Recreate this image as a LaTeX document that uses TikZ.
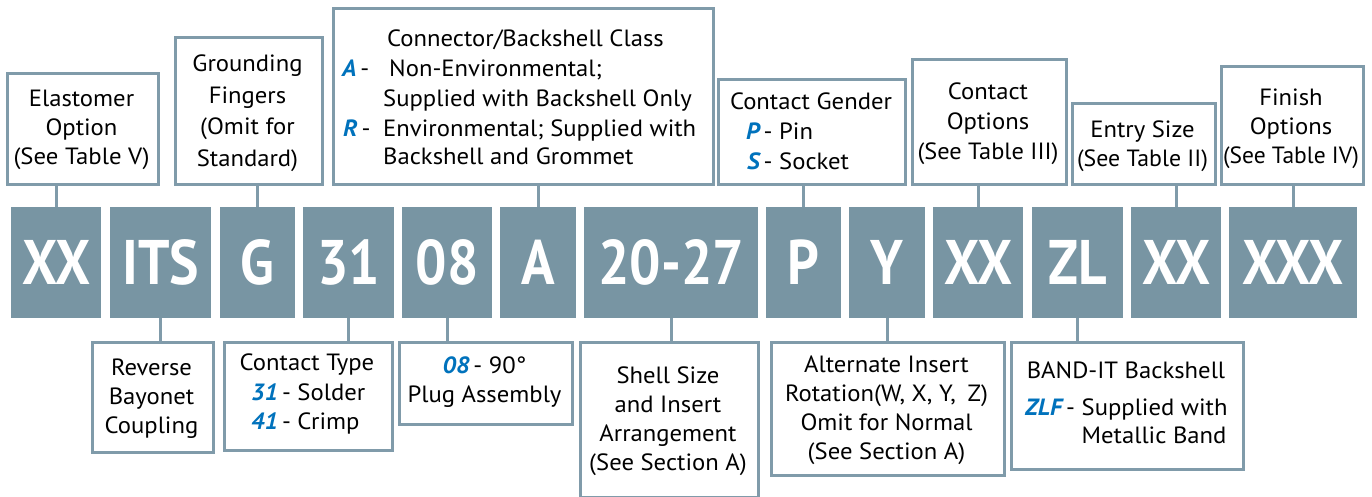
\documentclass[tikz,border=0pt]{standalone}
\usepackage{fontspec}
\usepackage{graphicx}
\setmainfont{PT Sans}[FakeStretch=1.05]
\newfontfamily\codefont{PT Sans}[FakeStretch=0.88]
\definecolor{boxgray}{RGB}{120,149,163}
\definecolor{edge}{RGB}{128,155,170}
\definecolor{hl}{RGB}{0,114,188}
\newcommand\hb[1]{{\color{hl}\bfseries\itshape #1}}
\newcommand\fitw[2]{\resizebox{#1}{\height}{#2}}
\newcommand\cstack[2][29.5pt]{\vtop{\baselineskip=#1\lineskiplimit=-20pt\halign{\hfil##\hfil\cr#2\crcr}}}
\newcommand\lstack[2][29.5pt]{\vtop{\baselineskip=#1\lineskiplimit=-20pt\halign{##\hfil\cr#2\crcr}}}
\tikzset{
  code/.style={fill=boxgray, draw=none, anchor=north west, inner sep=0pt, text=white,
    minimum height=111pt, text height=44pt, text depth=0pt,
    font=\codefont\bfseries\fontsize{63}{63}\selectfont},
  cbox/.style={draw=edge, line width=3pt, anchor=north west, inner sep=0pt, fill=white},
  conn/.style={draw=edge, line width=3pt},
  txt/.style={inner sep=0pt, anchor=base, font=\fontsize{23.5}{29.5}\selectfont},
  ltxt/.style={txt, anchor=base west}
}
\newcommand\mkcode[4]{\node[code, minimum width={(#3-#2)*1pt}] (#1) at (#2,207) {#4};}
\newcommand\mkbox[5]{\node[cbox, minimum width={(#4-#2)*1pt}, minimum height={(#5-#3)*1pt}] (#1) at (#2,#3) {};}
\begin{document}
\begin{tikzpicture}[x=1pt, y=-1pt]
\useasboundingbox (0,0) rectangle (1372,497);
% code boxes
\mkcode{cXX}{11}{101}{XX}
\mkcode{cITS}{110}{211}{ITS}
\mkcode{cG}{220}{295}{G}
\mkcode{cT}{303}{394}{31}
\mkcode{cP8}{402}{492}{08}
\mkcode{cA}{500}{576}{A}
\mkcode{cS}{584}{758}{20-27}
\mkcode{cPG}{766}{841}{P}
\mkcode{cY}{849}{925}{Y}
\mkcode{cCO}{933}{1023}{XX}
\mkcode{cZL}{1032}{1123}{ZL}
\mkcode{cES}{1131}{1221}{XX}
\mkcode{cF}{1229}{1357}{XXX}
% top callout boxes
\mkbox{bE}{6}{72}{157}{183}
\mkbox{bG}{174}{36}{321}{183}
\mkbox{bC}{332}{7}{712}{183}
\mkbox{bCG}{717}{78}{904}{183}
\mkbox{bCO}{911}{58}{1065}{183}
\mkbox{bES}{1071}{102}{1214}{183}
\mkbox{bF}{1220}{65}{1362}{183}
% bottom callout boxes
\mkbox{bR}{91}{341}{212}{451}
\mkbox{bT}{223}{341}{391}{449}
\mkbox{bP}{398}{341}{571}{423}
\mkbox{bS}{579}{341}{757}{496}
\mkbox{bAI}{770}{341}{1003}{474}
\mkbox{bB}{1010}{341}{1242}{468}
% connectors
\draw[conn] (cXX.north) -- (cXX.north |- bE.south);
\draw[conn] (cG.north) -- (cG.north |- bG.south);
\draw[conn] (cA.north) -- (cA.north |- bC.south);
\draw[conn] (cPG.north) -- (cPG.north |- bCG.south);
\draw[conn] (cCO.north) -- (cCO.north |- bCO.south);
\draw[conn] (cES.north) -- (cES.north |- bES.south);
\draw[conn] (cF.north) -- (cF.north |- bF.south);
\draw[conn] (cITS.south) -- (cITS.south |- bR.north);
\draw[conn] (cT.south) -- (cT.south |- bT.north);
\draw[conn] (cP8.south) -- (cP8.south |- bP.north);
\draw[conn] (cS.south) -- (cS.south |- bS.north);
\draw[conn] (cY.south) -- (cY.south |- bAI.north);
\draw[conn] (cZL.south) -- (cZL.south |- bB.north);
% top texts
\node[txt] (tE) at (81.5,107) {\cstack[29pt]{Elastomer\cr Option\cr \fitw{136pt}{(See Table V)}}};
\node[txt] (tG) at (247.5,72) {\cstack[31.5pt]{Grounding\cr Fingers\cr (Omit for\cr Standard)}};
\node[ltxt] (tC1) at (387,47) {Connector/Backshell Class};
\node[ltxt] (tC2) at (342,77) {\hb{A}\,-};
\node[ltxt] (tC3) at (389,77) {Non-Environmental;};
\node[ltxt] (tC4) at (383,107) {Supplied with Backshell Only};
\node[ltxt] (tC5) at (343,137) {\hb{R}\,-};
\node[ltxt] (tC6) at (383,137) {Environmental; Supplied with};
\node[ltxt] (tC7) at (383,165) {Backshell and Grommet};
\node[txt] (tCG1) at (811,110) {Contact Gender};
\node[ltxt] (tCG2) at (746,140) {\hb{P}\,- Pin};
\node[ltxt] (tCG3) at (747,170) {\hb{S}\,- Socket};
\node[txt] (tCO) at (988,100) {\cstack[29.7pt]{Contact\cr Options\cr \fitw{141pt}{(See Table III)}}};
\node[txt] (tES) at (1142.5,138) {\cstack[29pt]{Entry Size\cr \fitw{131pt}{(See Table II)}}};
\node[txt] (tF) at (1291,106) {\cstack[29pt]{Finish\cr Options\cr \fitw{136pt}{(See Table IV)}}};
% bottom texts
\node[txt] (tR) at (151.5,375) {\cstack[29pt]{Reverse\cr Bayonet\cr Coupling}};
\node[txt] (tT1) at (307,370) {Contact Type};
\node[ltxt] (tT2) at (251,400) {\lstack[29pt]{\hb{31}\,- Solder\cr \hb{41}\,- Crimp}};
\node[txt] (tP) at (484.5,373) {\cstack[29pt]{\hb{08}\,- 90°\cr Plug Assembly}};
\node[txt] (tS) at (668,383) {\cstack[29pt]{Shell Size\cr and Insert\cr Arrangement\cr (See Section A)}};
\node[txt] (tAI) at (886.5,372) {\cstack[29.3pt]{Alternate Insert\cr Rotation(W, X, Y,\enspace Z)\cr Omit for Normal\cr (See Section A)}};
\node[txt] (tB1) at (1126,378) {BAND-IT Backshell};
\node[ltxt] (tB2) at (1025,415) {\lstack[28.5pt]{\hb{ZLF}\,- Supplied with\cr \hphantom{\hb{ZLF}\,- }Metallic Band}};
\end{tikzpicture}
\end{document}
